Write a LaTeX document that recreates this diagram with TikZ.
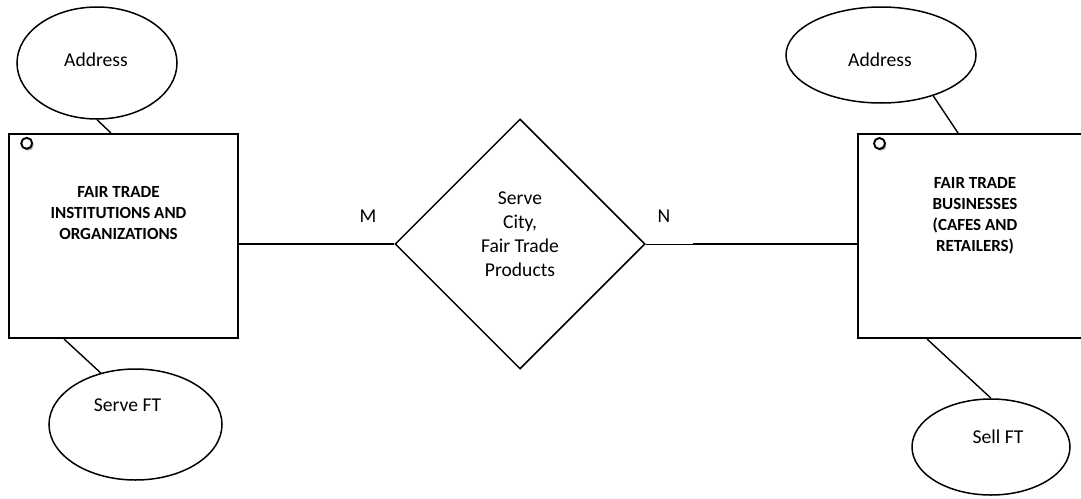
\documentclass[tikz,border=0pt]{standalone}
\usepackage{fontspec}
\setmainfont{Carlito}
\usetikzlibrary{shapes.geometric,shadows}

\tikzset{
  entity/.style={draw, rectangle, line width=2pt, minimum width=229pt,
                 minimum height=204pt, inner sep=0pt},
  attrib/.style={draw, ellipse, line width=1.5pt, inner sep=0pt},
  relation/.style={draw, diamond, line width=1.5pt, minimum width=250pt,
                   minimum height=250pt, inner sep=0pt},
  link/.style={line width=1.4pt},
  txt/.style={font=\fontsize{19.6}{24}\selectfont, align=center, inner sep=0pt},
  boldtxt/.style={font=\fontsize{17}{21}\selectfont\bfseries, align=center, inner sep=0pt},
  marker/.style={draw, circle, fill=white, line width=1.9pt, minimum size=11pt,
                 inner sep=0pt,
                 drop shadow={shadow xshift=1.4pt, shadow yshift=-1.8pt,
                              fill=black!35, opacity=1}}
}

\begin{document}
\begin{tikzpicture}[x=1pt, y=-1pt]
  \clip (0,0) rectangle (1081,498);
  \fill[white] (0,0) rectangle (1081,498);

  % entities
  \node[entity] (inst) at (123.5,236) {};
  \node[entity] (biz)  at (972.5,236) {};
  \node[marker] (instmark) at (26.7,143.3) {};
  \node[marker] (bizmark)  at (879.5,143.5) {};
  \node[boldtxt] (insttxt) at (118.5,213) {FAIR TRADE\\INSTITUTIONS AND\\ORGANIZATIONS};
  \node[boldtxt] (biztxt)  at (975,215.5) {FAIR TRADE\\BUSINESSES\\(CAFES AND\\RETAILERS)};

  % relationship
  \node[relation] (rel) at (520,244) {};
  \node[txt] (reltxt) at (520,234.5) {Serve\\City,\\Fair Trade\\Products};

  % attributes
  \node[attrib, minimum width=160pt, minimum height=112pt] (addrA) at (97,63) {};
  \node[txt] (addrAtxt) at (96,60) {Address};
  \node[attrib, minimum width=173pt, minimum height=111pt] (serve) at (135.5,424.5) {};
  \node[txt] (servetxt) at (127.5,405) {Serve FT};
  \node[attrib, minimum width=190pt, minimum height=96pt] (addrB) at (881,55) {};
  \node[txt] (addrBtxt) at (880,60) {Address};
  \node[attrib, minimum width=158pt, minimum height=96pt] (sell) at (991,447) {};
  \node[txt] (selltxt) at (998,437) {Sell FT};

  % attribute links
  \draw[link] (addrA.south) -- ([xshift=103pt]inst.north west);
  \draw[link] ([xshift=56pt]inst.south west) -- (serve.124.6);
  \draw[link] (addrB.-38) -- ([xshift=101pt]biz.north west);
  \draw[link] ([xshift=70pt]biz.south west) -- (sell.north);

  % relationship links with cardinalities
  \draw[link] (rel.west) -- (rel.west -| inst.east);
  \coordinate (nbreak) at (693,244);
  \draw[line width=1pt] (rel.east) -- (nbreak);
  \draw[line width=1.7pt] (nbreak) -- (nbreak -| biz.west);
  \node[txt] (mlabel) at (368,216) {M};
  \node[txt] (nlabel) at (664,216) {N};
\end{tikzpicture}
\end{document}
